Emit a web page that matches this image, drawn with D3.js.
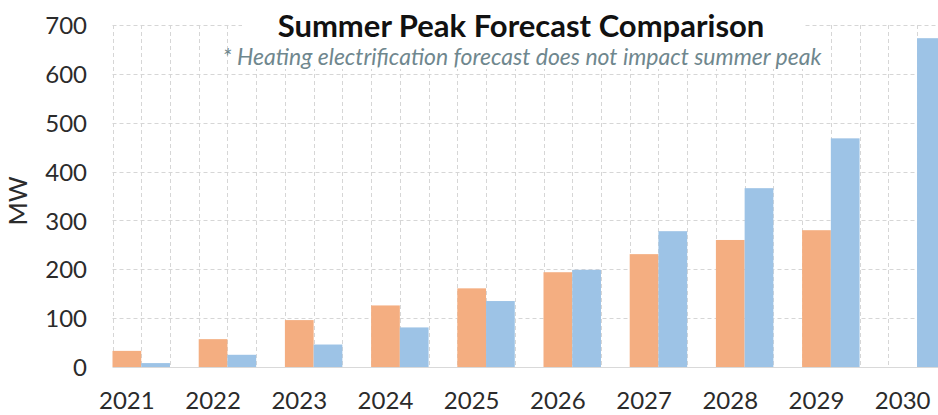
<!DOCTYPE html>
<html lang="en">
<head>
    <meta charset="UTF-8">
    <title>Summer Peak Forecast Comparison</title>
    <style>
        body {
            margin: 0;
            background: #fff;
            font-family: Lato, "Open Sans", sans-serif;
        }
        svg {
            display: block;
        }
    </style>
</head>
<body>
    <svg id="chart" width="938" height="415"></svg>

    <script src="https://cdn.jsdelivr.net/npm/d3@7/dist/d3.min.js"></script>
    <script>
        // values (MW)
        const years = ["2021", "2022", "2023", "2024", "2025", "2026", "2027", "2028", "2029", "2030"];
        const orangeForecast = [33, 57, 96, 126, 161, 194, 231, 260, 280, 0];
        const blueForecast = [8, 25, 46, 81, 135, 199, 278, 366, 468, 673];
        const yTicks = [0, 100, 200, 300, 400, 500, 600, 700];

        const svg = d3.select("#chart");

        const step = 86.2;
        const x = d3.scaleBand()
            .domain(years)
            .range([112.5, 112.5 + step * years.length])
            .padding(0);
        const barW = x.bandwidth() / 3;

        const y = d3.scaleLinear()
            .domain([0, 700])
            .range([367, 25]);

        const orange = "#F4AE81";
        const blue = "#9DC3E6";

        // dashed gridlines
        const grid = svg.append("g")
            .attr("stroke", "#d6d6d6")
            .attr("stroke-width", 1)
            .attr("stroke-dasharray", "4,3");

        grid.selectAll("line.h")
            .data(yTicks.slice(1))
            .join("line")
            .attr("class", "h")
            .attr("x1", x.range()[0])
            .attr("x2", 938)
            .attr("y1", d => Math.round(y(d)) + 0.5)
            .attr("y2", d => Math.round(y(d)) + 0.5);

        const vLines = [];
        years.forEach(yr => {
            for (let i = 0; i < 3; i++) vLines.push(x(yr) + i * barW);
        });
        grid.selectAll("line.v")
            .data(vLines)
            .join("line")
            .attr("class", "v")
            .attr("x1", d => Math.round(d) + 0.5)
            .attr("x2", d => Math.round(d) + 0.5)
            .attr("y1", y(700))
            .attr("y2", y(0));

        // baseline
        svg.append("line")
            .attr("x1", x.range()[0])
            .attr("x2", 938)
            .attr("y1", y(0) + 0.5)
            .attr("y2", y(0) + 0.5)
            .attr("stroke", "#d9d9d9");

        // bars
        svg.append("g")
            .selectAll("rect")
            .data(years.map((yr, i) => ({ yr, v: orangeForecast[i] })))
            .join("rect")
            .attr("x", d => x(d.yr))
            .attr("width", barW)
            .attr("y", d => y(d.v))
            .attr("height", d => y(0) - y(d.v))
            .attr("fill", orange);

        svg.append("g")
            .selectAll("rect")
            .data(years.map((yr, i) => ({ yr, v: blueForecast[i] })))
            .join("rect")
            .attr("x", d => x(d.yr) + barW)
            .attr("width", barW)
            .attr("y", d => y(d.v))
            .attr("height", d => y(0) - y(d.v))
            .attr("fill", blue);

        // y axis labels
        const yAxis = d3.axisLeft(y).tickValues(yTicks).tickSize(0).tickPadding(0);
        svg.append("g")
            .attr("transform", "translate(87,0)")
            .call(yAxis)
            .call(g => g.select(".domain").remove())
            .selectAll("text")
            .attr("font-family", "Lato, sans-serif")
            .attr("font-size", 24)
            .attr("fill", "#2b2b2b")
            .attr("dy", "0.36em");

        // x axis labels, centred under the orange bar
        const xAxis = d3.axisBottom(x).tickSize(0).tickPadding(0);
        svg.append("g")
            .attr("transform", `translate(${-barW},0)`)
            .call(xAxis)
            .call(g => g.select(".domain").remove())
            .selectAll("text")
            .attr("y", 409)
            .attr("dy", null)
            .attr("font-family", "Lato, sans-serif")
            .attr("font-size", 24)
            .attr("fill", "#2b2b2b");

        // axis title
        svg.append("text")
            .attr("transform", "translate(27,201) rotate(-90)")
            .attr("text-anchor", "middle")
            .attr("font-size", 25)
            .attr("fill", "#2b2b2b")
            .text("MW");

        // title block with white background over the grid
        svg.append("rect")
            .attr("x", 242)
            .attr("y", 0)
            .attr("width", 563)
            .attr("height", 69)
            .attr("fill", "#fff");

        svg.append("text")
            .attr("x", 521)
            .attr("y", 37)
            .attr("text-anchor", "middle")
            .attr("font-size", 31)
            .attr("font-weight", "bold")
            .attr("fill", "#111")
            .text("Summer Peak Forecast Comparison");

        svg.append("text")
            .attr("x", 522)
            .attr("y", 65)
            .attr("text-anchor", "middle")
            .attr("font-size", 23)
            .attr("font-style", "italic")
            .attr("fill", "#6f878e")
            .text("* Heating electrification forecast does not impact summer peak");
    </script>
</body>
</html>
